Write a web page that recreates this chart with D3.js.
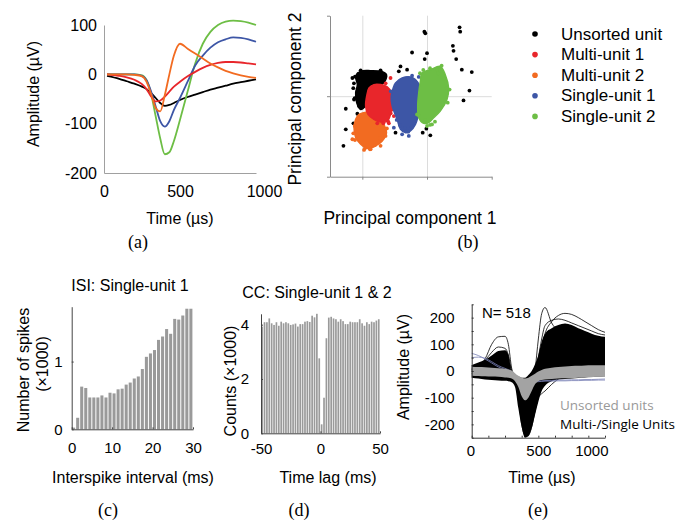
<!DOCTYPE html>
<html>
<head>
<meta charset="utf-8">
<script src="https://cdn.jsdelivr.net/npm/d3@7"></script>
<style>
  body { margin: 0; background: #fff; }
</style>
</head>
<body>
<div id="fig"></div>
<script>
const WIDTH = 691;
const HEIGHT = 522;
const SANS = "Liberation Sans, Arial, sans-serif";
const SERIF = "Liberation Serif, Times New Roman, serif";

// ---- (a) mean waveforms, time in µs, amplitude in µV
const waveTime = [20, 100, 150, 200, 250, 280, 310, 340, 370, 400, 430, 460, 500, 550, 600, 650, 700, 750, 800, 850, 900, 950, 1000];
const waveUnsorted = [-3, -9, -14, -19, -25, -30, -38, -48, -58, -64, -62, -58, -52, -46, -41, -36, -31, -27, -23, -19, -16, -13, -10];
const waveMulti1 = [0, -3, -6, -11, -20, -30, -45, -55, -53, -45, -35, -25, -15, -4, 5, 13, 19, 23, 25, 25, 24, 22, 20];
const waveMulti2 = [0, 0, 0, -1, -4, -15, -40, -68, -75, -42, 0, 38, 62, 52, 42, 32, 22, 14, 7, 2, -2, -5, -7];
const waveSingle1 = [0, 0, 0, 0, -3, -12, -35, -65, -95, -106, -95, -72, -48, -15, 18, 38, 54, 65, 71, 75, 74, 71, 66];
const waveSingle2 = [0, 0, 0, 0, -2, -12, -40, -85, -130, -162, -158, -135, -92, -35, 22, 62, 86, 100, 107, 109, 108, 105, 100];

const unitNames = ["Unsorted unit", "Multi-unit 1", "Multi-unit 2", "Single-unit 1", "Single-unit 2"];
const unitColors = ["#000000", "#e8262b", "#f26b21", "#3d56a6", "#6dbe45"];

// ---- (b) principal components (arbitrary units), cluster outlines + scattered points
const pcUnsortedHull = [[-10.3, 24.7], [-2.6, 30.9], [12.8, 31.7], [28.2, 30.9], [37.4, 26.7], [33.3, 16.5], [23.1, 12.3], [10.3, -4.1], [5.1, -12.3], [-2.6, -16.5], [-8.7, -8.2], [-10.3, 4.1], [-7.7, 14.4]];
const pcMulti2Hull = [[-5.1, -22.6], [5.1, -19.8], [17.9, -20.6], [28.2, -26.7], [34.4, -37.0], [37.4, -45.3], [30.8, -55.6], [20.5, -61.7], [7.7, -65.0], [-2.6, -59.7], [-10.3, -51.4], [-12.8, -39.1], [-10.3, -28.8]];
const pcMulti1Hull = [[10.3, 10.3], [17.9, 14.4], [28.2, 14.4], [38.5, 11.5], [45.1, 4.1], [46.2, -8.2], [43.6, -22.6], [38.5, -30.9], [28.2, -32.1], [17.9, -28.8], [8.7, -22.6], [5.1, -12.3], [6.7, 0]];
const pcSingle1Hull = [[51.3, 16.5], [61.5, 22.6], [74.4, 23.9], [82.1, 20.6], [89.7, 11.5], [93.8, 0], [92.3, -12.3], [87.2, -22.6], [82.1, -35.0], [74.4, -43.2], [66.7, -45.3], [59.0, -41.2], [53.8, -28.8], [46.2, -12.3], [44.6, 0], [47.7, 10.3]];
const pcSingle2Hull = [[92.3, 28.8], [105.1, 32.9], [120.5, 37.0], [128.2, 26.7], [133.3, 10.3], [130.8, -4.1], [120.5, -18.5], [110.3, -26.7], [102.6, -32.9], [94.9, -33.7], [87.2, -26.7], [85.6, -12.3], [87.2, 4.1], [89.7, 18.5]];

const pcUnsortedPoints = [[-29.2, -61.7], [-25.6, -41.2], [-25.6, -15.6], [-13.8, -33.7], [-7.7, -21.8], [-11.8, -2.5], [51.3, -45.3], [56.4, 30.9], [59.0, 37.0], [69.2, 32.9], [76.9, 54.3], [68.2, 21.8], [95.9, 80.2], [97.4, 78.2], [100, 53.5], [96.4, 46.1], [93.3, -45.3], [105.1, -48.6], [99.0, -40.3], [140, 62.6], [141, 56.4], [145.1, 46.1], [150.3, 85.6], [151.3, 80.2], [153.8, 32.9], [169.2, 30], [165.6, 7.0], [156.4, -5.3], [-15.4, 22.6], [-2.6, 32.1], [28.2, 32.1], [-12.8, -4.1], [-5.1, -12.3], [-11.4, 24.2], [-6.2, 27.6], [1.5, 29.2], [11.8, 28.5], [19.6, 26.4], [27.3, 29.2], [32.4, 26.4], [-14, 10], [-13, 16]];
const pcMulti1Points = [[43.6, 22.6], [48.7, -24.7], [41, -33.7], [23.1, -33.7], [46.2, -16.5], [42.8, 3.6], [45.4, -8.8], [43.8, -21.2], [40.1, -31.5], [32.4, -33.6], [36, 16], [47, -2]];
const pcMulti2Points = [[-15.4, -53.5], [2.6, -66.7], [12.8, -65.8], [35.9, -49.4], [-11.8, -37], [28.2, -61.7], [4.1, -64.7], [11.8, -65.9], [19.6, -60.6], [27.3, -52.3], [-11.4, -54.4], [-14.0, -46.1], [38, -40]];
const pcSingle1Points = [[48.7, -39.1], [61.5, -47.3], [71.8, -49.4], [87.2, 23.9], [76.9, 25.5], [58.2, -35.7], [66, -39.8], [71, -44.1], [76.3, -37.9], [53.1, -29.5], [44, 6], [93, 8], [90, -20]];
const pcSingle2Points = [[115.4, 32.1], [122.6, 37.9], [134.9, 8.2], [84.6, -22.6], [100, -37], [107.7, -35], [89.1, 28.5], [94.2, 32.6], [104.6, 34.7], [117.4, 28.5], [130.4, 9.8], [112.3, -31.7], [104.6, -35.7], [96.9, -29.5], [86.5, -23.3], [132, -8], [126, 22]];

// ---- (c) ISI histogram, 1 ms bins, counts ×1000
const isiCounts = [0.025, 0.17, 0.63, 0.61, 0.47, 0.47, 0.47, 0.50, 0.47, 0.54, 0.53, 0.59, 0.60, 0.66, 0.69, 0.75, 0.78, 0.89, 1.07, 1.12, 1.17, 1.32, 1.37, 1.48, 1.41, 1.63, 1.62, 1.68, 1.78, 1.78];

// ---- (d) cross-correlogram, 2 ms bins from -50 to 50, counts ×1000
const ccCounts = [3.93, 4.09, 4.09, 4.23, 4.05, 3.99, 4.09, 3.96, 4.11, 4.05, 4.09, 4.05, 3.99, 4.01, 4.04, 3.93, 4.02, 4.02, 4.11, 4.13, 4.10, 4.33, 4.27, 4.40, 2.76, 0.33, 1.31, 3.5, 4.26, 4.29, 4.23, 4.20, 4.11, 4.20, 4.13, 4.02, 4.02, 4.11, 4.09, 4.09, 4.09, 4.20, 4.05, 3.96, 4.09, 4.02, 4.11, 4.09, 4.15, 4.20];

// ---- (e) all waveforms (N = 518): envelopes and a few traced outlines
const eTime = [0, 50, 100, 150, 200, 250, 275, 300, 325, 350, 375, 400, 425, 450, 475, 500, 525, 550, 600, 650, 700, 750, 800, 850, 900, 950, 1000];
const eSortedHi = [22, 32, 42, 58, 75, 78, 62, -5, -15, -20, -25, -25, -15, 0, 25, 60, 110, 140, 160, 172, 178, 172, 160, 150, 140, 132, 128];
const eSortedLo = [-25, -28, -32, -34, -36, -37, -38, -42, -60, -140, -210, -250, -245, -215, -165, -115, -75, -55, -38, -32, -30, -28, -26, -24, -22, -21, -20];
const eUnsortedHi = [16, 15, 14, 12, 10, 8, 6, 2, -8, -18, -25, -28, -25, -18, -10, -2, 4, 8, 12, 15, 17, 19, 20, 21, 22, 22, 22];
const eUnsortedLo = [-18, -19, -20, -21, -22, -24, -25, -28, -38, -60, -95, -110, -100, -75, -50, -38, -34, -32, -30, -28, -27, -26, -25, -24, -23, -22, -22];
const eTraceA = [5, 15, 45, 100, 128, 130, 100, 10, -20, -60, -120, -150, -120, -60, 0, 40, 70, 90, 110, 120, 120, 115, 110, 105, 100, 98, 95];
const eTraceB = [10, 20, 40, 70, 90, 85, 60, 0, -20, -50, -90, -110, -90, -50, -10, 20, 50, 75, 100, 110, 112, 110, 105, 100, 95, 92, 90];
const eTraceC = [0, 0, 0, 0, -2, -5, -8, -10, -30, -80, -150, -180, -160, -90, 0, 120, 215, 238, 180, 150, 140, 135, 130, 128, 125, 122, 120];
const eTraceD = [5, 5, 5, 5, 0, -5, -8, -12, -30, -100, -200, -240, -220, -150, -60, 20, 90, 140, 185, 208, 216, 212, 200, 185, 170, 155, 145];
const eTraceE = [-10, -12, -14, -16, -18, -20, -22, -25, -35, -80, -170, -230, -240, -210, -150, -100, -85, -75, -50, -30, -15, -5, 5, 12, 18, 22, 25];
const eTraceF = [20, 25, 30, 40, 50, 55, 40, 0, -15, -40, -100, -160, -170, -120, -30, 50, 120, 170, 190, 195, 190, 180, 170, 160, 150, 140, 135];
const eBlueA = [66, 58, 45, 30, 15, 5, 0, -10, -20, -30, -45, -55, -50, -45, -40, -38, -37, -36, -35, -34, -34, -33, -33, -32, -32, -31, -30];
const eBlueB = [50, 52, 48, 35, 20, 10, 5, -2, -15, -35, -60, -70, -62, -50, -42, -40, -39, -38, -38, -37, -37, -36, -36, -35, -35, -34, -34];

const svg = d3
  .select("#fig")
  .append("svg")
  .attr("width", WIDTH)
  .attr("height", HEIGHT)
  .style("background", "#fff");

function styleAxis(g, size, color) {
  g.attr("font-family", SANS).attr("font-size", size);
  g.select(".domain").attr("stroke", color);
  g.selectAll(".tick line").attr("stroke", color);
  g.selectAll(".tick text").attr("fill", "#000");
}

function addText(x, y, str, size, opts = {}) {
  const t = svg
    .append("text")
    .attr("x", x)
    .attr("y", y)
    .attr("font-family", opts.family || SANS)
    .attr("font-size", size)
    .attr("text-anchor", opts.anchor || "middle")
    .attr("dominant-baseline", "central")
    .attr("fill", opts.fill || "#000")
    .text(str);
  if (opts.rotate) t.attr("transform", `rotate(-90, ${x}, ${y})`);
  return t;
}

const plain = (d) => String(d);

// ================= (a)
const aX = d3.scaleLinear().domain([0, 1000]).range([104, 256]);
const aY = d3.scaleLinear().domain([-200, 100]).range([173, 25]);

svg.append("g")
  .attr("transform", "translate(104,0)")
  .call(d3.axisLeft(aY).tickValues([-200, -100, 0, 100]).tickSize(0).tickPadding(7).tickFormat(plain))
  .call((g) => styleAxis(g, 16, "#a0a0a0"));
svg.append("g")
  .attr("transform", "translate(0,173)")
  .call(d3.axisBottom(aX).tickValues([0, 500, 1000]).tickSize(0).tickPadding(13).tickFormat(plain))
  .call((g) => styleAxis(g, 16, "#a0a0a0"))
  .call((g) => g.selectAll(".tick text").filter((d) => d === 1000).attr("dx", 8));

const aLine = d3
  .line()
  .x((d, i) => aX(waveTime[i]))
  .y((d) => aY(d))
  .curve(d3.curveMonotoneX);

[[waveUnsorted, 0], [waveSingle2, 4], [waveSingle1, 3], [waveMulti1, 1], [waveMulti2, 2]].forEach(([w, c]) => {
  svg.append("path")
    .attr("d", aLine(w))
    .attr("fill", "none")
    .attr("stroke", unitColors[c])
    .attr("stroke-width", 1.8);
});

addText(180, 218, "Time (µs)", 16);
addText(33, 94, "Amplitude (µV)", 16, { rotate: true });
addText(138, 242, "(a)", 18, { family: SERIF });

// ================= (b)
const bX = d3.scaleLinear().domain([-50, 200]).range([330, 491.7]);
const bY = d3.scaleLinear().domain([-100, 100]).range([176.7, 15.7]);

svg.append("g")
  .attr("transform", "translate(0,176.7)")
  .call(d3.axisBottom(bX).tickValues([0, 100]).tickSize(-161).tickFormat(""))
  .call((g) => g.select(".domain").remove())
  .call((g) => g.selectAll(".tick line").attr("stroke", "#dcdcdc"));
svg.append("g")
  .attr("transform", "translate(330,0)")
  .call(d3.axisLeft(bY).tickValues([0]).tickSize(-161.7).tickFormat(""))
  .call((g) => g.select(".domain").remove())
  .call((g) => g.selectAll(".tick line").attr("stroke", "#dcdcdc"));
svg.append("g")
  .attr("transform", "translate(0,176.7)")
  .call(d3.axisBottom(bX).tickValues([0, 100, 200]).tickSize(3).tickSizeOuter(0).tickFormat(""))
  .call((g) => styleAxis(g, 10, "#8a8a8a"));
svg.append("g")
  .attr("transform", "translate(330,0)")
  .call(d3.axisLeft(bY).tickValues([-100, 0, 100]).tickSize(3).tickSizeOuter(0).tickFormat(""))
  .call((g) => styleAxis(g, 10, "#8a8a8a"));

const hullLine = d3
  .line()
  .x((d) => bX(d[0]))
  .y((d) => bY(d[1]))
  .curve(d3.curveCatmullRomClosed);

const clusters = [
  [pcUnsortedHull, pcUnsortedPoints, 0],
  [pcMulti2Hull, pcMulti2Points, 2],
  [pcMulti1Hull, pcMulti1Points, 1],
  [pcSingle1Hull, pcSingle1Points, 3],
  [pcSingle2Hull, pcSingle2Points, 4],
];
clusters.forEach(([hull, pts, c]) => {
  svg.append("path")
    .attr("d", hullLine(hull))
    .attr("fill", unitColors[c])
    .attr("stroke", unitColors[c])
    .attr("stroke-width", 1.5)
    .attr("stroke-linejoin", "round");
  svg.append("g")
    .selectAll("circle")
    .data(pts)
    .enter()
    .append("circle")
    .attr("cx", (d) => bX(d[0]))
    .attr("cy", (d) => bY(d[1]))
    .attr("r", 1.9)
    .attr("fill", unitColors[c]);
});

addText(410, 218, "Principal component 1", 17.5);
addText(295, 99, "Principal component 2", 17.5, { rotate: true });
addText(468, 242, "(b)", 18, { family: SERIF });

// legend
const legend = svg
  .append("g")
  .selectAll("g")
  .data(unitNames)
  .enter()
  .append("g")
  .attr("transform", (d, i) => `translate(535, ${34 + i * 20.6})`);
legend.append("circle").attr("r", 2.8).attr("fill", (d, i) => unitColors[i]);
legend
  .append("text")
  .attr("x", 26)
  .attr("dominant-baseline", "central")
  .attr("font-family", SANS)
  .attr("font-size", 17)
  .text((d) => d);

// ================= (c)
const cX = d3.scaleLinear().domain([0, 30]).range([71.7, 193]);
const cY = d3.scaleLinear().domain([0, 1.81]).range([429.3, 306.7]);

svg.append("g")
  .selectAll("rect")
  .data(isiCounts)
  .enter()
  .append("rect")
  .attr("x", (d, i) => cX(i) + 0.4)
  .attr("y", (d) => cY(d))
  .attr("width", (d, i) => cX(i + 1) - cX(i) - 1)
  .attr("height", (d) => cY(0) - cY(d))
  .attr("fill", "#9a9a9a");

svg.append("g")
  .attr("transform", "translate(71.7,0)")
  .call(d3.axisLeft(cY).tickValues([0, 1]).tickSize(-2).tickSizeOuter(0).tickPadding(9).tickFormat(plain))
  .call((g) => styleAxis(g, 15, "#444"));
svg.append("g")
  .attr("transform", "translate(0,429.3)")
  .call(d3.axisBottom(cX).tickValues([0, 10, 20, 30]).tickSize(-2).tickSizeOuter(0).tickPadding(13).tickFormat(plain))
  .call((g) => styleAxis(g, 15, "#444"));

addText(130, 285, "ISI: Single-unit 1", 16);
addText(23, 370, "Number of spikes", 16, { rotate: true });
addText(42, 364, "(×1000)", 16, { rotate: true });
addText(133, 477, "Interspike interval (ms)", 16);
addText(108, 510, "(c)", 18, { family: SERIF });

// ================= (d)
const dX = d3.scaleLinear().domain([-50, 50]).range([261, 380]);
const dY = d3.scaleLinear().domain([0, 4.4]).range([433.3, 313.8]);

svg.append("g")
  .selectAll("rect")
  .data(ccCounts)
  .enter()
  .append("rect")
  .attr("x", (d, i) => dX(-50 + 2 * i) + 0.3)
  .attr("y", (d) => dY(d))
  .attr("width", (d, i) => dX(-48 + 2 * i) - dX(-50 + 2 * i) - 0.7)
  .attr("height", (d) => dY(0) - dY(d))
  .attr("fill", "#9a9a9a");

svg.append("g")
  .attr("transform", "translate(261,0)")
  .call(d3.axisLeft(dY).tickValues([0, 2, 4]).tickSize(-2).tickSizeOuter(0).tickPadding(12).tickFormat(plain))
  .call((g) => styleAxis(g, 15, "#444"));
svg.append("g")
  .attr("transform", "translate(0,433.3)")
  .call(d3.axisBottom(dX).tickValues([-50, 0, 50]).tickSize(-2).tickSizeOuter(0).tickPadding(10).tickFormat(plain))
  .call((g) => styleAxis(g, 15, "#444"));

addText(317, 292, "CC: Single-unit 1 & 2", 16);
addText(230, 381, "Counts (×1000)", 16, { rotate: true });
addText(328, 477, "Time lag (ms)", 16);
addText(299, 510, "(d)", 18, { family: SERIF });

// ================= (e)
const eX = d3.scaleLinear().domain([0, 1000]).range([471.7, 605]);
const eY = d3.scaleLinear().domain([-250, 250]).range([437.7, 304.3]);

const eArea = (hi, lo) =>
  d3
    .area()
    .x((d, i) => eX(eTime[i]))
    .y0((d, i) => eY(lo[i]))
    .y1((d, i) => eY(hi[i]))
    .curve(d3.curveMonotoneX)(hi);
const eLine = d3
  .line()
  .x((d, i) => eX(eTime[i]))
  .y((d) => eY(d))
  .curve(d3.curveMonotoneX);

svg.append("path").attr("d", eArea(eSortedHi, eSortedLo)).attr("fill", "#000");
[eTraceA, eTraceB, eTraceC, eTraceD, eTraceE, eTraceF].forEach((w) => {
  svg.append("path").attr("d", eLine(w)).attr("fill", "none").attr("stroke", "#000").attr("stroke-width", 0.8);
});
[eBlueA, eBlueB].forEach((w) => {
  svg.append("path").attr("d", eLine(w)).attr("fill", "none").attr("stroke", "#7880b5").attr("stroke-width", 0.8);
});
svg.append("path").attr("d", eArea(eUnsortedHi, eUnsortedLo)).attr("fill", "#a3a3a3");

svg.append("g")
  .attr("transform", "translate(471.7,0)")
  .call(
    d3.axisLeft(eY)
      .tickValues(d3.range(-250, 251, 50))
      .tickSize(-2)
      .tickSizeOuter(0)
      .tickPadding(17)
      .tickFormat((d) => (d % 100 === 0 ? String(d) : ""))
  )
  .call((g) => styleAxis(g, 15, "#333"));
svg.append("g")
  .attr("transform", "translate(0,437.7)")
  .call(
    d3.axisBottom(eX)
      .tickValues(d3.range(0, 1001, 125))
      .tickSize(-2)
      .tickSizeOuter(0)
      .tickPadding(8)
      .tickFormat((d) => (d % 500 === 0 ? String(d) : ""))
  )
  .call((g) => styleAxis(g, 15, "#333"))
  .call((g) => g.selectAll(".tick text").filter((d) => d === 0 || d === 1000).attr("text-anchor", "end").attr("dx", 3));

addText(482, 312, "N= 518", 15, { anchor: "start" });
addText(560, 405, "Unsorted units", 13.5, { anchor: "start", family: "Open Sans, sans-serif", fill: "#999" });
addText(560, 424, "Multi-/Single Units", 13.5, { anchor: "start", family: "Open Sans, sans-serif" });
addText(403, 367, "Amplitude (µV)", 16, { rotate: true });
addText(542, 477, "Time (µs)", 16);
addText(538, 510, "(e)", 18, { family: SERIF });
</script>
</body>
</html>
